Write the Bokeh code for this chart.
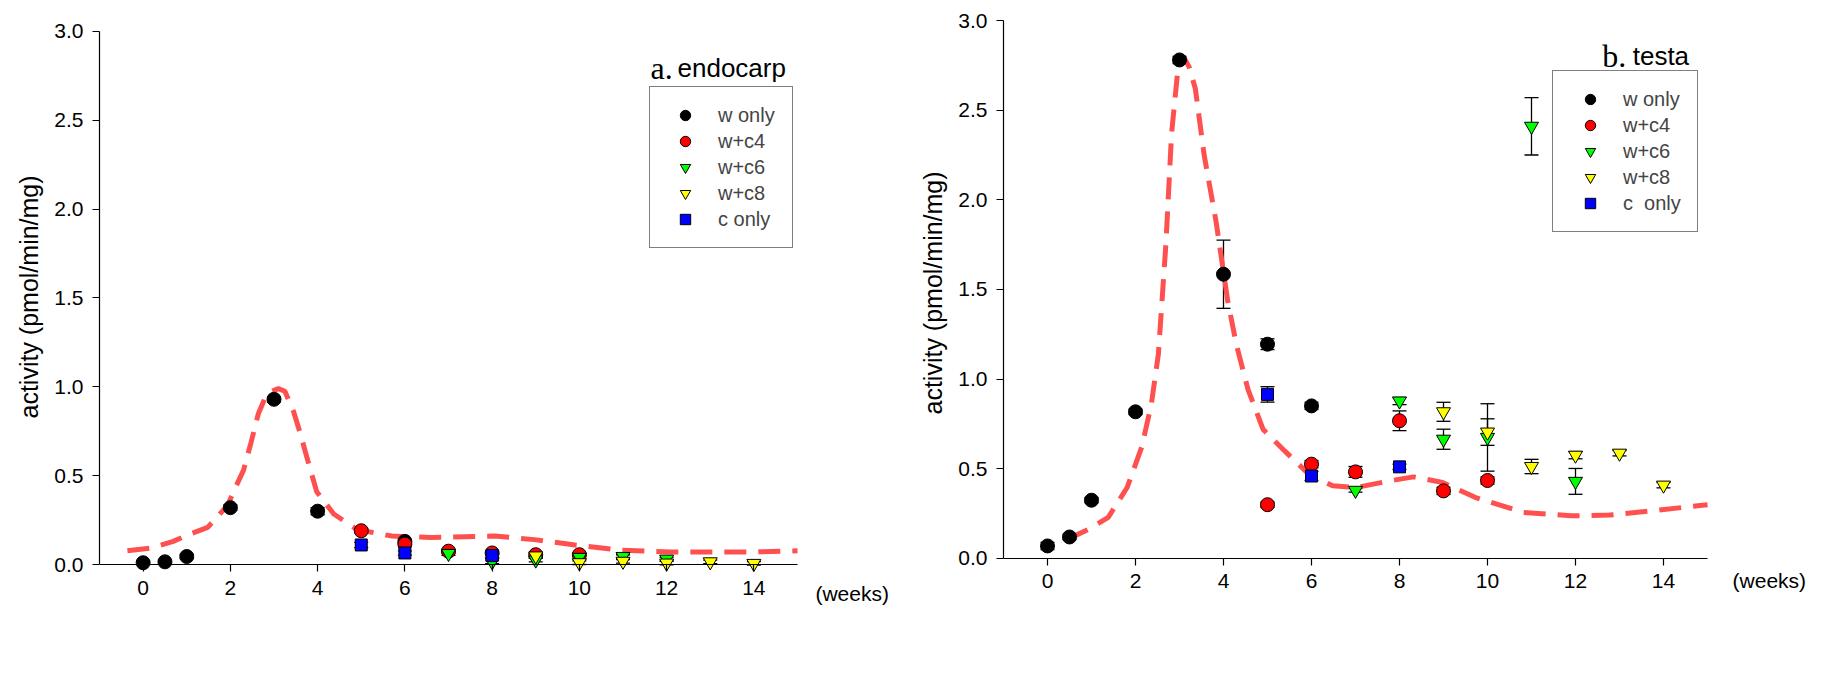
from bokeh.plotting import figure
from bokeh.models import (Range1d, FixedTicker, Whisker, TeeHead, ColumnDataSource,
                          Label, Legend, LegendItem, PrintfTickFormatter, Title)
from bokeh.layouts import row
from bokeh.embed import file_html
from bokeh.resources import INLINE

# ---------------- panel a: endocarp ----------------
a_w_x = [0, 0.5, 1, 2, 3, 4, 6]
a_w_y = [0.01, 0.015, 0.045, 0.32, 0.93, 0.30, 0.13]
a_w_e = [0.01, 0.01, 0.012, 0.015, 0.015, 0.02, 0.01]

a_c4_x = [5, 6, 7, 8, 9, 10]
a_c4_y = [0.19, 0.115, 0.075, 0.065, 0.055, 0.055]
a_c4_e = [0.012, 0.01, 0.01, 0.01, 0.01, 0.01]

a_c6_x = [7, 8, 9, 10, 11, 12]
a_c6_y = [0.062, 0.015, 0.025, 0.04, 0.045, 0.03]
a_c6_e = [0.01, 0.01, 0.01, 0.01, 0.01, 0.01]

a_c8_x = [9, 10, 11, 12, 13, 14]
a_c8_y = [0.048, 0.01, 0.018, 0.008, 0.015, 0.006]
a_c8_e = [0.01, 0.01, 0.01, 0.01, 0.01, 0.01]

a_co_x = [5, 6, 8]
a_co_y = [0.11, 0.065, 0.05]
a_co_e = [0.015, 0.012, 0.012]

a_fit_x = [-0.36, 0.17, 0.69, 1.08, 1.48, 1.94, 2.07, 2.3, 2.47, 2.64, 2.8, 2.95, 3.1,
           3.25, 3.45, 3.6, 3.72, 3.85, 3.98, 4.37, 4.9, 5.7, 6.6, 8.06, 8.97, 9.9,
           10.95, 12.1, 13.85, 15.0]
a_fit_y = [0.077, 0.092, 0.13, 0.172, 0.209, 0.334, 0.409, 0.53, 0.683, 0.848, 0.94, 0.975, 0.99,
           0.975, 0.86, 0.74, 0.633, 0.52, 0.409, 0.284, 0.197, 0.16, 0.152, 0.16, 0.14, 0.11,
           0.08, 0.07, 0.07, 0.077]

# ---------------- panel b: testa ----------------
b_w_x = [0, 0.5, 1, 2, 3, 4, 5, 6]
b_w_y = [0.07, 0.12, 0.325, 0.818, 2.78, 1.585, 1.195, 0.851]
b_w_e = [0.02, 0.015, 0.015, 0.015, 0.02, 0.19, 0.03, 0.02]

b_c4_x = [5, 6, 7, 8, 9, 10]
b_c4_y = [0.30, 0.526, 0.483, 0.768, 0.377, 0.435]
b_c4_e = [0.015, 0.02, 0.03, 0.055, 0.02, 0.02]

b_c6_x = [7, 8, 9, 10, 11, 12]
b_c6_y = [0.38, 0.878, 0.665, 0.675, 2.41, 0.43]
b_c6_e = [0.01, 0.02, 0.056, 0.188, 0.16, 0.072]

b_c8_x = [9, 10, 11, 12, 13, 14]
b_c8_y = [0.818, 0.705, 0.513, 0.576, 0.587, 0.409]
b_c8_e = [0.053, 0.074, 0.04, 0.02, 0.015, 0.015]

b_co_x = [5, 6, 8]
b_co_y = [0.915, 0.46, 0.511]
b_co_e = [0.043, 0.025, 0.015]

b_fit_x = [0.46, 0.94, 1.38, 1.81, 2.14, 2.36, 2.52, 2.69, 2.82, 2.96, 3.09, 3.22, 3.36,
           3.56, 3.83, 4.1, 4.3, 4.56, 4.9, 5.39, 5.94, 6.48, 7.02, 7.78, 8.32, 8.98,
           9.73, 10.82, 11.9, 12.77, 13.75, 15.0]
b_fit_y = [0.108, 0.164, 0.229, 0.396, 0.62, 0.86, 1.14, 1.75, 2.37, 2.72, 2.80, 2.74, 2.62,
           2.25, 1.88, 1.43, 1.185, 0.94, 0.72, 0.60, 0.47, 0.405, 0.396, 0.433, 0.455, 0.424,
           0.34, 0.257, 0.238, 0.242, 0.266, 0.30]

x_ticks = [0, 2, 4, 6, 8, 10, 12, 14]
y_ticks = [0.0, 0.5, 1.0, 1.5, 2.0, 2.5, 3.0]

series_names_a = ["w only", "w+c4", "w+c6", "w+c8", "c only"]
series_names_b = ["w only", "w+c4", "w+c6", "w+c8", "c\u00a0 only"]
markers = ["circle", "circle", "inverted_triangle", "inverted_triangle", "square"]
colors = ["#000000", "#FF0000", "#00FF00", "#FFFF00", "#0000FF"]
sizes = [14, 14, 14, 14, 12]

SANS = "Liberation Sans"
SERIF = "Liberation Serif"
Y_LABEL = "activity (pmol/min/mg)"


def make_panel(width, bl, xr, yr, series, fit_x, fit_y, names,
               prefix, title, tx1, tx2, ty, wx, wy, leg_loc, leg_gw, leg_st, ylab_off):
    p = figure(width=width, height=620, x_range=Range1d(*xr), y_range=Range1d(*yr),
               output_backend="svg", toolbar_location=None,
               min_border_left=bl, min_border_right=5, min_border_top=20, min_border_bottom=10)
    p.outline_line_color = None
    p.xgrid.visible = False
    p.ygrid.visible = False
    p.background_fill_color = "white"
    p.border_fill_color = "white"
    for ax in (p.xaxis[0], p.yaxis[0]):
        ax.axis_line_color = "black"
        ax.axis_line_width = 1.2
        ax.major_tick_in = 0
        ax.major_tick_out = 7
        ax.major_tick_line_width = 1.2
        ax.minor_tick_in = 0
        ax.minor_tick_out = 0
        ax.major_label_text_font = SANS
        ax.major_label_text_font_size = "21px"
        ax.major_label_text_color = "black"
        ax.major_label_standoff = 9
    p.xaxis.ticker = FixedTicker(ticks=x_ticks)
    p.xaxis.bounds = (-1, 15)
    p.xaxis.fixed_location = 0
    p.yaxis.ticker = FixedTicker(ticks=y_ticks)
    p.yaxis.bounds = (0, 3)
    p.yaxis.formatter = PrintfTickFormatter(format="%.1f")

    p.add_layout(Title(text=Y_LABEL, align="left", offset=ylab_off, standoff=17,
                       vertical_align="bottom", text_font=SANS, text_font_size="25px",
                       text_font_style="normal", text_color="black"), "left")

    p.line(fit_x, fit_y, line_color="#FF5050", line_width=5, line_dash="22 12")

    items = []
    for (xs, ys, es), name, mk, col, sz in zip(series, names, markers, colors, sizes):
        src = ColumnDataSource(dict(x=xs, y=ys,
                                    lo=[y - e for y, e in zip(ys, es)],
                                    hi=[y + e for y, e in zip(ys, es)]))
        w = Whisker(base="x", upper="hi", lower="lo", source=src,
                    line_color="black", line_width=1.3,
                    upper_head=TeeHead(size=14, line_color="black", line_width=1.3),
                    lower_head=TeeHead(size=14, line_color="black", line_width=1.3))
        p.add_layout(w)
        r = p.scatter("x", "y", source=src, marker=mk, size=sz, fill_color=col,
                      line_color="black", line_width=1)
        items.append(LegendItem(label=name, renderers=[r]))

    leg = Legend(items=items, location=leg_loc, padding=15, spacing=0,
                 glyph_height=26, glyph_width=leg_gw, label_standoff=leg_st,
                 label_width=59, label_text_font=SANS, label_text_font_size="20px",
                 border_line_color="black", border_line_width=1,
                 background_fill_color="white", background_fill_alpha=1, margin=0)
    p.add_layout(leg)

    p.add_layout(Label(x=tx1, y=ty, text=prefix, text_font=SERIF, text_font_size="32px",
                       text_baseline="alphabetic", text_color="black"))
    p.add_layout(Label(x=tx2, y=ty, text=title, text_font=SANS, text_font_size="26px",
                       text_baseline="alphabetic", text_color="black"))
    p.add_layout(Label(x=wx, y=wy, text="(weeks)", text_font=SANS, text_font_size="21px",
                       text_baseline="middle", text_color="black"))
    return p


pa = make_panel(905, 99, (-1, 17.361), (-0.2589, 3.0619),
                [(a_w_x, a_w_y, a_w_e), (a_c4_x, a_c4_y, a_c4_e), (a_c6_x, a_c6_y, a_c6_e),
                 (a_c8_x, a_c8_y, a_c8_e), (a_co_x, a_co_y, a_co_e)],
                a_fit_x, a_fit_y, series_names_a,
                "a.", "endocarp", 11.63, 12.25, 2.792, 15.41, -0.163, (550, 362), 40, 13, 192)

pb = make_panel(920, 98, (-1, 17.568), (-0.29, 3.0),
                [(b_w_x, b_w_y, b_w_e), (b_c4_x, b_c4_y, b_c4_e), (b_c6_x, b_c6_y, b_c6_e),
                 (b_c8_x, b_c8_y, b_c8_e), (b_co_x, b_co_y, b_co_e)],
                b_fit_x, b_fit_y, series_names_b,
                "b.", "testa", 12.61, 13.30, 2.80, 15.57, -0.123, (549, 378), 44, 11, 196)

layout = row(pa, pb)
open("out.html", "w").write(file_html(layout, INLINE))
